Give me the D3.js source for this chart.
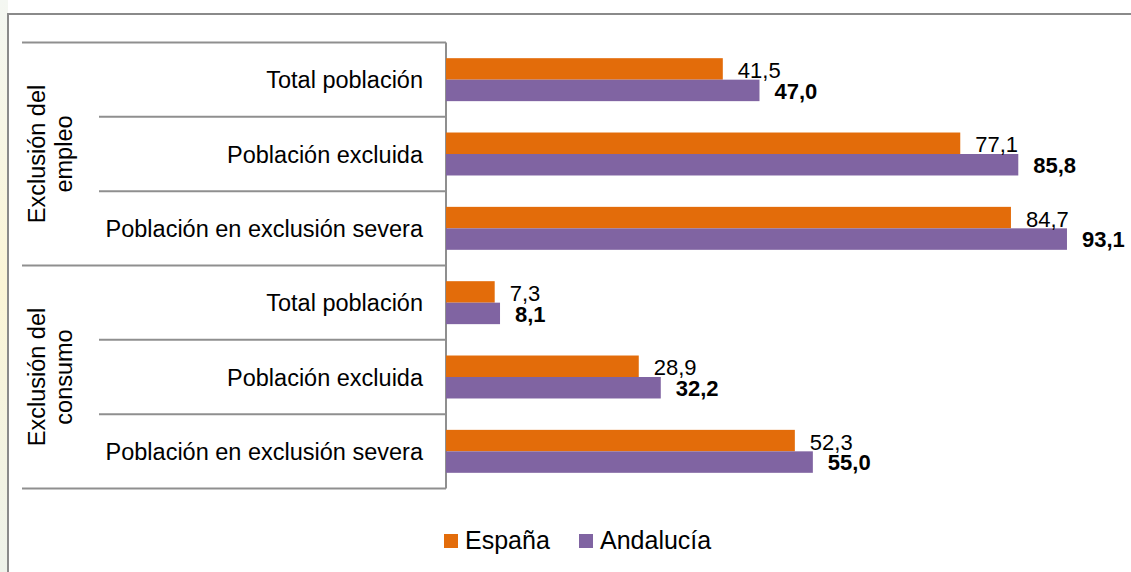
<!DOCTYPE html>
<html lang="es">
<head>
  <meta charset="UTF-8">
  <title>Exclusión del empleo y del consumo</title>
  <script src="https://d3js.org/d3.v7.min.js"></script>
  <style>
    body { margin: 0; background: #fff; }
    svg { display: block; font-family: "Liberation Sans", Arial, sans-serif; }
    .grid { stroke: #8f8f8f; stroke-width: 2; fill: none; }
    .cat { font-size: 23.5px; fill: #000; text-anchor: end; }
    .grp { font-size: 23.5px; fill: #000; text-anchor: middle; }
    .val { font-size: 22px; fill: #000; }
    .val.bold { font-weight: bold; }
    .legend text { font-size: 25px; fill: #000; }
  </style>
</head>
<body>
  <svg width="1131" height="572"></svg>

  <script>
    // datos
    const groups = ["Exclusión del empleo", "Exclusión del consumo"];
    const groupLines = [["Exclusión del", "empleo"], ["Exclusión del", "consumo"]];
    const categories = ["Total población", "Población excluida", "Población en exclusión severa"];
    const series = ["España", "Andalucía"];
    const espana    = [41.5, 77.1, 84.7, 7.3, 28.9, 52.3];
    const andalucia = [47.0, 85.8, 93.1, 8.1, 32.2, 55.0];
    const colors = ["#E36C0A", "#8064A2"];

    const width = 1131, height = 572;
    const svg = d3.select("svg");

    // fondo: franja izquierda ligeramente tintada
    const grad = svg.append("defs").append("linearGradient")
      .attr("id", "edge").attr("x1", 0).attr("x2", 0).attr("y1", 0).attr("y2", 1);
    grad.append("stop").attr("offset", "0%").attr("stop-color", "#f4f7f2");
    grad.append("stop").attr("offset", "50%").attr("stop-color", "#fbf5d6");
    grad.append("stop").attr("offset", "100%").attr("stop-color", "#eef2ea");
    svg.append("rect").attr("x", 0).attr("y", 0).attr("width", 8).attr("height", height)
      .attr("fill", "url(#edge)");

    // marco
    svg.append("path").attr("d", `M8,${height}V14H${width}`)
      .attr("fill", "none").attr("stroke", "#8a8a8a").attr("stroke-width", 2);

    const rows = [];
    groups.forEach((g, gi) => categories.forEach((c, ci) => {
      const i = gi * categories.length + ci;
      rows.push({ key: i, group: gi, cat: c, first: ci === 0, values: [espana[i], andalucia[i]] });
    }));

    const x = d3.scaleLinear().domain([0, 100]).range([446, 1113]);
    const y = d3.scaleBand().domain(rows.map(d => d.key)).range([42.5, 488.5]).padding(0);
    const yInner = d3.scaleBand().domain(series).range([0, y.bandwidth()])
      .paddingInner(0).paddingOuter(0.73);

    // líneas de la tabla de categorías
    rows.forEach(d => {
      svg.append("line").attr("class", "grid")
        .attr("x1", d.first ? 22 : 99).attr("x2", x(0))
        .attr("y1", y(d.key)).attr("y2", y(d.key));
    });
    svg.append("line").attr("class", "grid")
      .attr("x1", 22).attr("x2", x(0)).attr("y1", y.range()[1]).attr("y2", y.range()[1]);
    svg.append("line").attr("class", "grid")
      .attr("x1", x(0)).attr("x2", x(0)).attr("y1", y.range()[0]).attr("y2", y.range()[1]);

    // etiquetas de categoría
    svg.selectAll(".cat").data(rows).join("text")
      .attr("class", "cat")
      .attr("x", 423)
      .attr("y", d => y(d.key) + y.bandwidth() / 2 + 8.5)
      .text(d => d.cat);

    // etiquetas de grupo (rotadas)
    groupLines.forEach((lines, gi) => {
      const y0 = y(gi * categories.length);
      const y1 = y(gi * categories.length + categories.length - 1) + y.bandwidth();
      const t = svg.append("text").attr("class", "grp")
        .attr("transform", `translate(45,${(y0 + y1) / 2}) rotate(-90)`);
      lines.forEach((l, li) => t.append("tspan").attr("x", 0).attr("y", li * 27).text(l));
    });

    // barras
    const row = svg.selectAll(".row").data(rows).join("g")
      .attr("class", "row")
      .attr("transform", d => `translate(0,${y(d.key)})`);

    row.selectAll("rect").data(d => d.values.map((v, si) => ({ v, s: series[si], si })))
      .join("rect")
      .attr("x", x(0))
      .attr("y", d => yInner(d.s))
      .attr("width", d => x(d.v) - x(0))
      .attr("height", yInner.bandwidth())
      .attr("fill", d => colors[d.si]);

    const fmt = v => d3.format(".1f")(v).replace(".", ",");
    row.selectAll("text").data(d => d.values.map((v, si) => ({ v, s: series[si], si })))
      .join("text")
      .attr("class", d => d.si === 1 ? "val bold" : "val")
      .attr("x", d => x(d.v) + 15)
      .attr("y", d => yInner(d.s) + yInner.bandwidth() - (d.si === 1 ? 2.5 : 1.5))
      .text(d => fmt(d.v));

    // leyenda
    const legendX = [444, 579];
    const legend = svg.append("g").attr("class", "legend");
    series.forEach((s, i) => {
      legend.append("rect").attr("x", legendX[i]).attr("y", 534)
        .attr("width", 14).attr("height", 14).attr("fill", colors[i]);
      legend.append("text").attr("x", legendX[i] + 21).attr("y", 549).text(s);
    });
  </script>
</body>
</html>
